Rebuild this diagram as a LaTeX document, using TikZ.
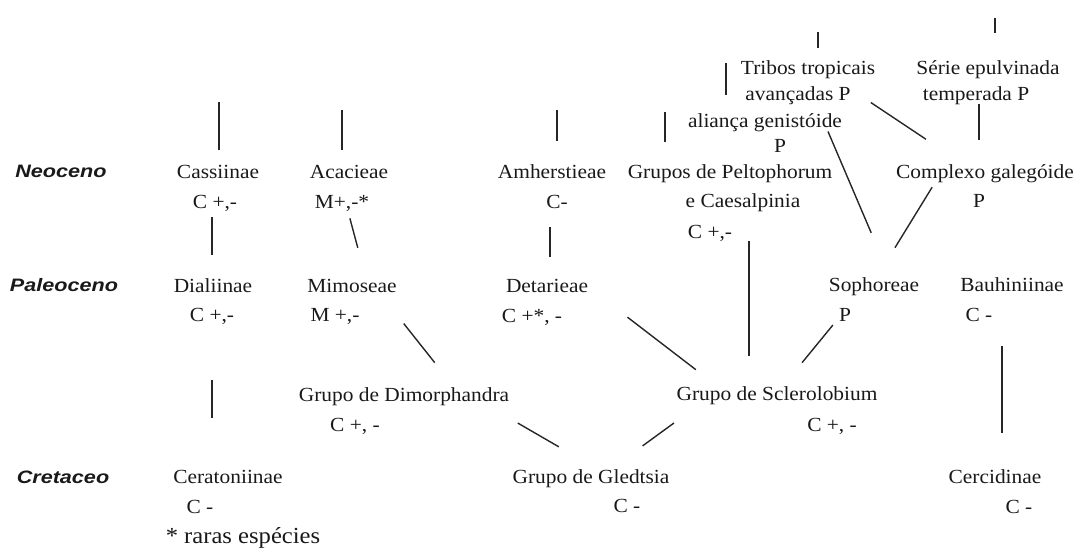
\documentclass[tikz,border=0pt]{standalone}
\usepackage{fontspec}
\setmainfont{Liberation Serif}[FakeStretch=1.07]
\newfontfamily\epochfont{Liberation Sans}[FakeStretch=1.2]
\usepackage{tikz}

\begin{document}
\begin{tikzpicture}[
    x=1pt, y=-1pt,
    taxon/.style={font=\fontsize{20}{24}\selectfont, text=black!90, inner sep=0pt, anchor=base},
    epoch/.style={font=\epochfont\fontsize{18}{22}\selectfont\bfseries\itshape, text=black!90, inner sep=0pt, anchor=base},
    link/.style={line width=1.4pt, draw=black!85}
]
\useasboundingbox (0,0) rectangle (1083,552);

% eras
\node[epoch] (neo) at (61,177) {Neoceno};
\node[epoch] (paleo) at (64,291) {Paleoceno};
\node[epoch] (cret) at (63,483) {Cretaceo};

% Neoceno
\node[taxon] (cass) at (218,178) {Cassiinae};
\node[taxon] (cassC) at (215,208) {C +,-};
\node[taxon] (acac) at (349,178) {Acacieae};
\node[taxon] (acacC) at (342,208) {M+,-*};
\node[taxon] (amh) at (552,178) {Amherstieae};
\node[taxon] (amhC) at (557,208) {C-};
\node[taxon] (pelt) at (730,178) {Grupos de Peltophorum};
\node[taxon] (pelt2) at (743,207) {e Caesalpinia};
\node[taxon] (peltC) at (710,238) {C +,-};
\node[taxon] (trib) at (808,74) {Tribos tropicais};
\node[taxon] (trib2) at (798,100) {avançadas P};
\node[taxon] (alia) at (765,127) {aliança genistóide};
\node[taxon] (aliaP) at (780,152) {P};
\node[taxon] (serie) at (988,74) {Série epulvinada};
\node[taxon] (serie2) at (976,100) {temperada P};
\node[taxon] (comp) at (985,178) {Complexo galegóide};
\node[taxon] (compP) at (979,207) {P};

% Paleoceno
\node[taxon] (dial) at (213,292) {Dialiinae};
\node[taxon] (dialC) at (212,321) {C +,-};
\node[taxon] (mim) at (352,292) {Mimoseae};
\node[taxon] (mimC) at (335,321) {M +,-};
\node[taxon] (det) at (547,292) {Detarieae};
\node[taxon] (detC) at (532,322) {C +*, -};
\node[taxon] (soph) at (874,291) {Sophoreae};
\node[taxon] (sophP) at (845,321) {P};
\node[taxon] (bauh) at (1012,291) {Bauhiniinae};
\node[taxon] (bauhC) at (979,321) {C -};
\node[taxon] (dim) at (404,401) {Grupo de Dimorphandra};
\node[taxon] (dimC) at (355,431) {C +, -};
\node[taxon] (scl) at (777,400) {Grupo de Sclerolobium};
\node[taxon] (sclC) at (832,431) {C +, -};

% Cretaceo
\node[taxon] (cera) at (228,483) {Ceratoniinae};
\node[taxon] (ceraC) at (200,513) {C -};
\node[taxon] (gled) at (591,483) {Grupo de Gledtsia};
\node[taxon] (gledC) at (627,512) {C -};
\node[taxon] (cerc) at (995,483) {Cercidinae};
\node[taxon] (cercC) at (1019,513) {C -};
\node[taxon, font=\fontsize{23}{27}\selectfont] (note) at (243,543) {* raras espécies};

% open ends at the top
\coordinate (cass-up) at (219,102);
\coordinate (acac-up) at (342,110);
\coordinate (amh-up) at (557,110);
\coordinate (pelt-up) at (665,112);
\coordinate (trib-up) at (818,32);
\coordinate (serie-up) at (995,18);
\coordinate (alia-up) at (726,63);

\draw[link, shorten >=14.5pt] (cass-up) -- (cass-up |- cass.north);
\draw[link, shorten >=14.3pt] (acac-up) -- (acac-up |- acac.north);
\draw[link, shorten >=23pt] (amh-up) -- (amh-up |- amh.north);
\draw[link, shorten >=22pt] (pelt-up) -- (pelt-up |- pelt.north);
\draw[link, shorten >=12pt] (trib-up) -- (trib-up |- trib.north);
\draw[link, shorten >=27pt] (serie-up) -- (serie-up |- serie.north);
\draw[link, shorten >=18pt] (alia-up) -- (alia-up |- alia.north);

% Neoceno links
\draw[link, shorten >=24pt] ([xshift=3pt]serie2.south) -- ([xshift=3pt]serie2.south |- comp.north);
\draw[link, shorten <=13.3pt, shorten >=44.5pt] ([xshift=9pt]trib2.east) -- ([xshift=-22pt]comp.north);
\draw[link, shorten >=48pt] ([xshift=63pt]alia.south) -- ([xshift=16pt]soph.north);
\draw[link, shorten <=5.5pt, shorten >=34.3pt] ([xshift=-50pt]comp.south) -- ([xshift=3pt]soph.north);
\draw[link, shorten >=30pt] ([xshift=39pt]peltC.south) -- ([xshift=-28pt]scl.north);
\draw[link, shorten <=6pt, shorten >=23pt] ([xshift=-3pt]cassC.south) -- ([xshift=-1pt]dial.north);
\draw[link, shorten <=7.3pt, shorten >=31.8pt] ([xshift=6pt]acacC.south) -- ([xshift=14pt]mim.north);
\draw[link, shorten <=19pt, shorten >=22pt] ([xshift=-7pt]amhC.south) -- ([xshift=3pt]det.north);

% Paleoceno links
\draw[link, shorten <=39.8pt, shorten >=31pt] ([xshift=27pt]mim.south) -- ([xshift=50pt]dim.north);
\draw[link, shorten <=40.7pt, shorten >=26.7pt] ([xshift=7pt]det.south east) -- ([xshift=-60pt]scl.north);
\draw[link, shorten <=4.9pt, shorten >=30.1pt] ([xshift=-9pt]sophP.south) -- ([xshift=6pt]scl.north);
\draw[link, shorten <=24.7pt, shorten >=36.3pt] ([xshift=23pt]bauhC.south) -- ([xshift=7pt]cerc.north);
\draw[link, shorten <=55.4pt, shorten >=51.6pt] (dialC.south) -- ([xshift=-16pt]cera.north);

% Cretaceo links
\draw[link, shorten <=35.1pt, shorten >=44.1pt] ([xshift=-22pt]dim.south east) -- ([xshift=6pt]gled.north);
\draw[link, shorten <=31.4pt, shorten >=39.1pt] ([xshift=23pt]scl.south west) -- ([xshift=20pt]gled.north);
\end{tikzpicture}
\end{document}
